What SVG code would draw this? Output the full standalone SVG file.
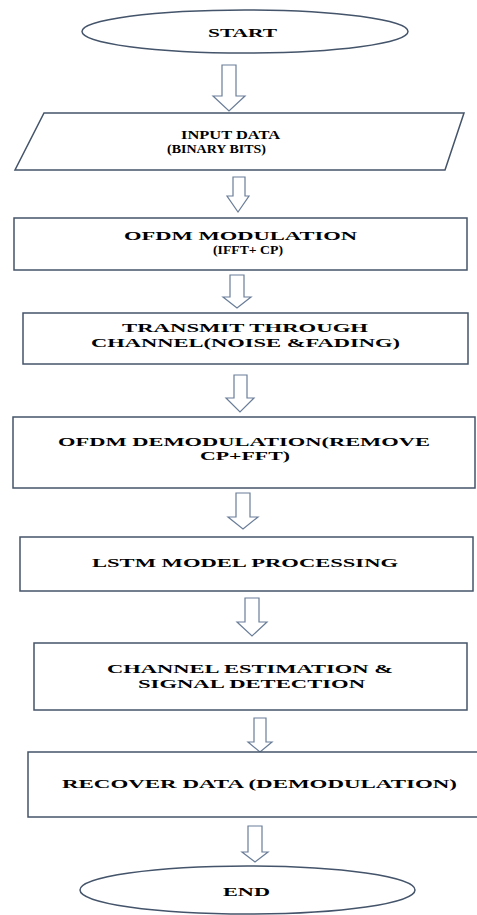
<svg xmlns="http://www.w3.org/2000/svg" width="477" height="915" viewBox="0 0 477 915">
<style>
.shape{fill:#ffffff;stroke:#44546a;stroke-width:1.5}
.arrow{fill:#ffffff;stroke:#6a7d98;stroke-width:1.2;stroke-linejoin:miter}
.t{font-family:"Liberation Serif","DejaVu Serif",serif;font-weight:bold;font-size:12.5px;fill:#000000}
</style>
<rect width="477" height="915" fill="#ffffff"/>
<g id="connectors">
<path class="arrow" d="M222,65 H236 V96 H245 L229,111 L213,96 H222 Z"/>
<path class="arrow" d="M233,177 H245 V196 H249 L238,212 L227,196 H233 Z"/>
<path class="arrow" d="M230,275 H244 V297 H251 L237,308 L223,297 H230 Z"/>
<path class="arrow" d="M234,375 H247 V398 H254 L240,412 L226,398 H234 Z"/>
<path class="arrow" d="M236,493 H250 V517 H258 L243,529 L228,517 H236 Z"/>
<path class="arrow" d="M245,598 H259 V622 H267 L252,636 L237,622 H245 Z"/>
<path class="arrow" d="M254,718 H266 V742 H272 L260,752 L248,742 H254 Z"/>
<path class="arrow" d="M248,826 H262 V852 H268 L255,862 L242,852 H248 Z"/>
</g>
<g id="start">
<ellipse class="shape" cx="245" cy="31.5" rx="163" ry="21.5"/>
<text class="t" x="208" y="37" textLength="69" lengthAdjust="spacingAndGlyphs">START</text>
</g>
<g id="input">
<polygon class="shape" points="44,113 464,113 445,170 15,170"/>
<text class="t" x="181" y="139" textLength="99" lengthAdjust="spacingAndGlyphs">INPUT DATA</text>
<text class="t" x="167" y="153" textLength="99" lengthAdjust="spacingAndGlyphs">(BINARY BITS)</text>
</g>
<g id="ofdm-mod">
<rect class="shape" x="14" y="218" width="453" height="52"/>
<text class="t" x="124" y="240" textLength="233" lengthAdjust="spacingAndGlyphs">OFDM MODULATION</text>
<text class="t" x="213" y="254" textLength="70" lengthAdjust="spacingAndGlyphs">(IFFT+ CP)</text>
</g>
<g id="transmit">
<rect class="shape" x="23" y="313" width="445" height="51"/>
<text class="t" x="122" y="332" textLength="246" lengthAdjust="spacingAndGlyphs">TRANSMIT THROUGH</text>
<text class="t" x="91" y="347" textLength="309" lengthAdjust="spacingAndGlyphs">CHANNEL(NOISE &amp;FADING)</text>
</g>
<g id="ofdm-demod">
<rect class="shape" x="13" y="417" width="462" height="71"/>
<text class="t" x="58" y="446" textLength="372" lengthAdjust="spacingAndGlyphs">OFDM DEMODULATION(REMOVE</text>
<text class="t" x="200" y="460" textLength="90" lengthAdjust="spacingAndGlyphs">CP+FFT)</text>
</g>
<g id="lstm">
<rect class="shape" x="20" y="537" width="453" height="54"/>
<text class="t" x="92" y="567" textLength="306" lengthAdjust="spacingAndGlyphs">LSTM MODEL PROCESSING</text>
</g>
<g id="estimation">
<rect class="shape" x="34" y="643" width="433" height="67"/>
<text class="t" x="107" y="673" textLength="286" lengthAdjust="spacingAndGlyphs">CHANNEL ESTIMATION &amp;</text>
<text class="t" x="138" y="688" textLength="227" lengthAdjust="spacingAndGlyphs">SIGNAL DETECTION</text>
</g>
<g id="recover">
<rect class="shape" x="28" y="752" width="460" height="65"/>
<text class="t" x="62" y="788" textLength="395" lengthAdjust="spacingAndGlyphs">RECOVER DATA (DEMODULATION)</text>
</g>
<g id="end">
<ellipse class="shape" cx="247.5" cy="890" rx="167.5" ry="24"/>
<text class="t" x="223" y="896" textLength="47" lengthAdjust="spacingAndGlyphs">END</text>
</g>
</svg>
